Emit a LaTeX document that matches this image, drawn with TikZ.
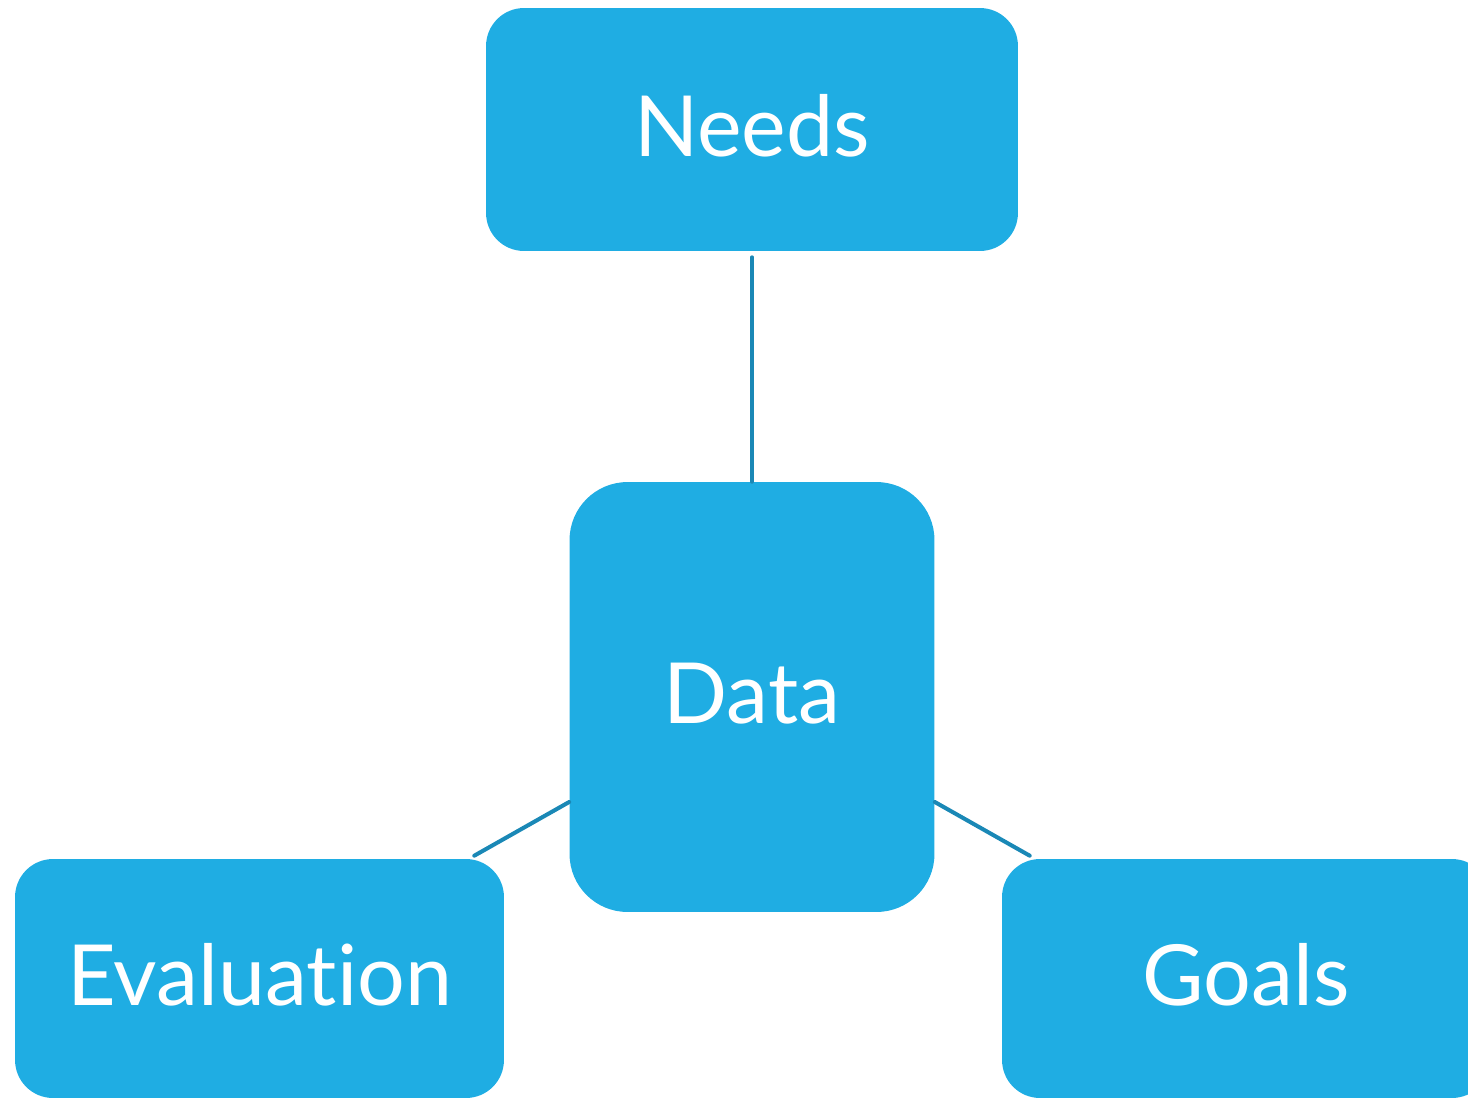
\documentclass[tikz,border=0pt]{standalone}
\usepackage{fontspec}
\setmainfont[Ligatures=NoCommon]{Lato}
\usetikzlibrary{calc}
\definecolor{boxblue}{HTML}{1FADE3}
\definecolor{linkblue}{HTML}{1A88B6}
\tikzset{
    topic/.style={fill=boxblue, text=white, font=\fontsize{48}{58}\selectfont, inner sep=0pt, text depth=0.16cm, rounded corners=0.76cm},
    link/.style={draw=linkblue, line width=2.3pt, line cap=round}
}
\begin{document}
\begin{tikzpicture}[x=0.02cm, y=-0.02cm]
    % Canvas
    \useasboundingbox (0,0) rectangle (1468,1100);
    \clip (0,0) rectangle (1468,1100);

    % Boxes
    \node[topic, minimum width=10.64cm, minimum height=4.86cm] (needs) at (752,129.5) {Needs};
    \node[topic, minimum width=7.3cm, minimum height=8.6cm, rounded corners=1.16cm] (data) at (752,697) {Data};
    \node[topic, minimum width=9.78cm, minimum height=4.78cm] (eval) at (259.5,978.5) {Evaluation};
    \node[topic, minimum width=9.76cm, minimum height=4.78cm] (goals) at (1246,978.5) {Goals};

    % Links
    \draw[link] ($(needs.south)+(0,6)$) -- (data.north);
    \draw[link] ($(data.west)+(0,105)$) -- ($(eval.north east)+(-30,-3)$);
    \draw[link] ($(data.east)+(0,105)$) -- ($(goals.north west)+(28,-3)$);

\end{tikzpicture}
\end{document}
